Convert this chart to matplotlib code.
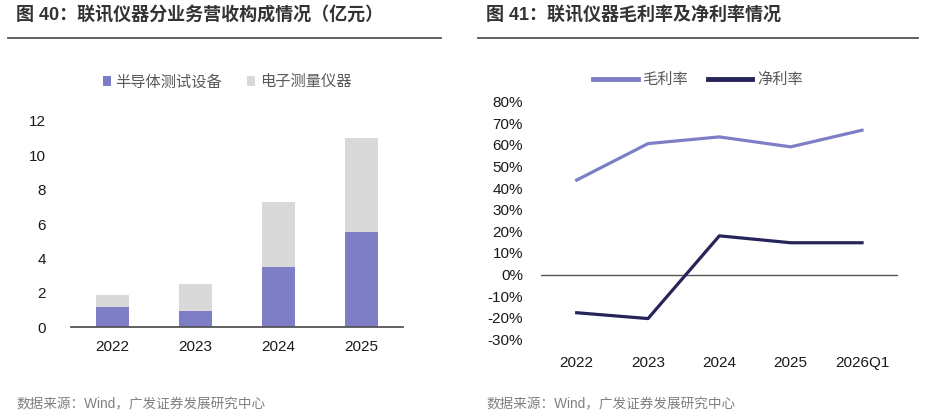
import matplotlib
matplotlib.use('Agg')
import matplotlib.pyplot as plt
import numpy as np

plt.rcParams['font.family'] = ['Liberation Sans', 'Noto Sans CJK SC', 'DejaVu Sans']

# 左图数据：分业务营收（亿元）
years = ['2022', '2023', '2024', '2025']
semi_test = [1.2, 0.93, 3.52, 5.53]
elec_meas = [0.7, 1.57, 3.76, 5.48]

# 右图数据：毛利率 / 净利率（%）
periods = ['2022', '2023', '2024', '2025', '2026Q1']
gross_margin = [43.7, 60.6, 63.7, 59.1, 66.8]
net_margin = [-17.7, -20.4, 17.9, 14.7, 14.7]

purple = '#7E7EC7'
grey = '#D9D9D9'
navy = '#262458'
txt = '#1a1a1a'

fig = plt.figure(figsize=(9.29, 4.16), dpi=100)

# 标题与分隔线
fig.text(16 / 929, 1 - 15 / 416, '图 40：联讯仪器分业务营收构成情况（亿元）',
         fontsize=13, fontweight='bold', color='#333333', va='center', ha='left')
fig.text(486 / 929, 1 - 15 / 416, '图 41：联讯仪器毛利率及净利率情况',
         fontsize=13, fontweight='bold', color='#333333', va='center', ha='left')
fig.add_artist(plt.Line2D([8 / 929, 441 / 929], [1 - 37.7 / 416] * 2, color='#555555', lw=1.3))
fig.add_artist(plt.Line2D([478 / 929, 918 / 929], [1 - 37.7 / 416] * 2, color='#555555', lw=1.3))

fig.text(16 / 929, 1 - 404 / 416, '数据来源：Wind，广发证券发展研究中心',
         fontsize=9.8, color='#808080', va='center', ha='left')
fig.text(486 / 929, 1 - 404 / 416, '数据来源：Wind，广发证券发展研究中心',
         fontsize=9.8, color='#808080', va='center', ha='left')

# 左图：堆积柱状图
ax1 = fig.add_axes([71 / 929, 1 - 327.3 / 416, 332 / 929, 206.6 / 416])
x = np.arange(len(years))
b1 = ax1.bar(x, semi_test, width=0.4, color=purple, label='半导体测试设备')
b2 = ax1.bar(x, elec_meas, width=0.4, bottom=semi_test, color=grey, label='电子测量仪器')
ax1.set_xlim(-0.5, 3.5)
ax1.set_ylim(0, 12)
ax1.set_yticks(range(0, 13, 2))
ax1.set_xticks(x)
ax1.set_xticklabels(years)
for s in ['top', 'right', 'left']:
    ax1.spines[s].set_visible(False)
ax1.spines['bottom'].set_color('#555555')
ax1.spines['bottom'].set_linewidth(1.3)
ax1.tick_params(axis='both', length=0, labelsize=11, colors=txt)
ax1.tick_params(axis='y', pad=18)
ax1.tick_params(axis='x', pad=9)
fig.legend(handles=[b1, b2], loc='center', bbox_to_anchor=(227 / 929, 1 - 82 / 416),
           ncol=2, frameon=False, fontsize=11, handlelength=0.55, handleheight=0.55,
           handletextpad=0.3, columnspacing=1.6, labelcolor='#595959')

# 右图：折线图
ax2 = fig.add_axes([541 / 929, 1 - 339.3 / 416, 356.7 / 929, 237.6 / 416])
x2 = np.arange(len(periods))
l1, = ax2.plot(x2, gross_margin, color=purple, lw=2.3, label='毛利率')
l2, = ax2.plot(x2, net_margin, color=navy, lw=2.3, label='净利率')
ax2.axhline(0, color='#555555', lw=1.0, zorder=0)
ax2.set_xlim(-0.5, 4.5)
ax2.set_ylim(-30, 80)
ax2.set_yticks(range(-30, 81, 10))
ax2.set_yticklabels([f'{v}%' for v in range(-30, 81, 10)])
ax2.set_xticks(x2)
ax2.set_xticklabels(periods)
for s in ax2.spines.values():
    s.set_visible(False)
ax2.tick_params(axis='both', length=0, labelsize=11, colors=txt)
ax2.tick_params(axis='y', pad=13)
ax2.tick_params(axis='x', pad=12)
fig.legend(handles=[l1, l2], loc='center', bbox_to_anchor=(698 / 929, 1 - 80 / 416),
           ncol=2, frameon=False, fontsize=11, handlelength=2.9,
           handletextpad=0.3, columnspacing=1.3, labelcolor='#595959')
for h in fig.legends[-1].get_lines():
    h.set_linewidth(3.5)

plt.savefig('out.png', dpi=100)
plt.close('all')
